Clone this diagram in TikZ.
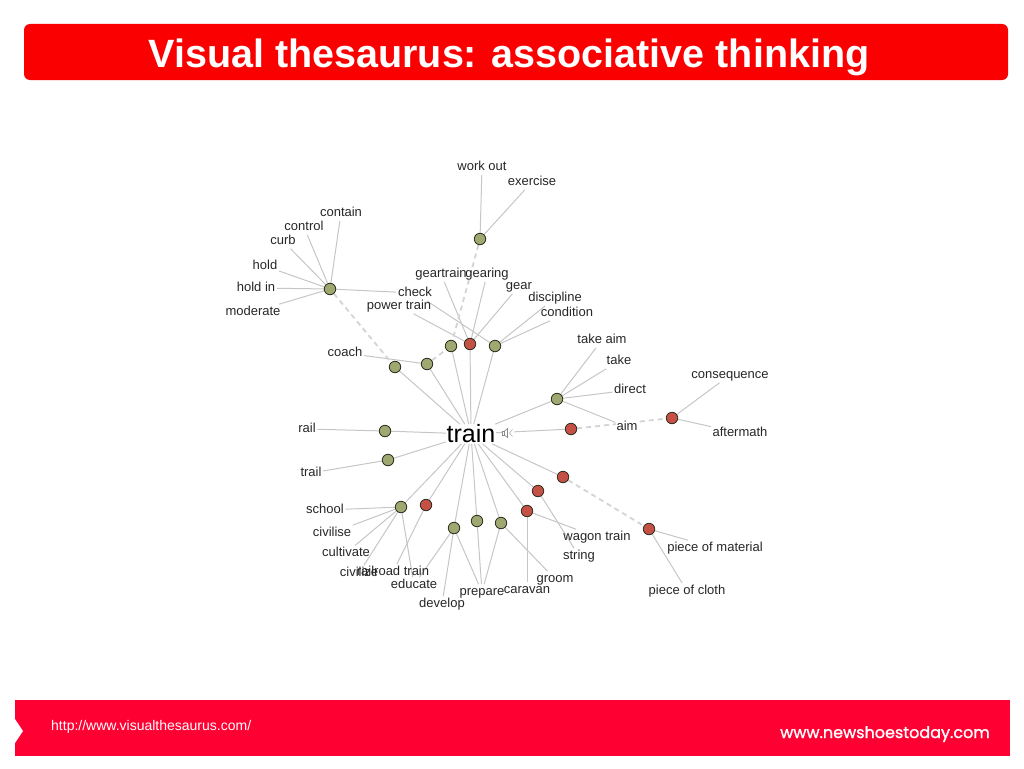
\documentclass[tikz,border=0pt]{standalone}
\usepackage{fontspec}
\setmainfont{Liberation Sans}
\newfontfamily\nstfont[FakeBold=1.2]{Poppins}
\usetikzlibrary{backgrounds}
\definecolor{titlered}{RGB}{250,0,0}
\definecolor{footred}{RGB}{255,0,51}
\definecolor{edgegray}{RGB}{198,198,198}
\definecolor{dashgray}{RGB}{212,212,212}
\definecolor{dotgreen}{RGB}{158,168,112}
\definecolor{dotred}{RGB}{196,80,70}
\definecolor{dotborder}{RGB}{45,45,30}
\tikzset{
  edge/.style={draw=edgegray, line width=1pt},
  dedge/.style={draw=dashgray, line width=1.8pt, dash pattern=on 5pt off 4pt},
  gdot/.style={circle, draw=dotborder, line width=0.8pt, fill=dotgreen, minimum size=11.5pt, inner sep=0pt},
  rdot/.style={circle, draw=dotborder, line width=0.8pt, fill=dotred, minimum size=11.5pt, inner sep=0pt},
  lbl/.style={font=\fontsize{13}{15}\selectfont, inner sep=1.5pt, text height=9.5pt, text depth=2.7pt, text=black!85},
  hub/.style={font=\fontsize{25}{28}\selectfont, inner sep=0.5pt, text=black},
}
\begin{document}
\begin{tikzpicture}[x=1pt,y=-1pt]
\useasboundingbox (0,0) rectangle (1024,768);
% title
\fill[titlered, rounded corners=6pt] (24,24) rectangle (1008,80);
\node[anchor=base, text=white, font=\bfseries\fontsize{39.5}{44}\selectfont, inner sep=0pt] (title) at (509,67) {Visual thesaurus: associative thinking};
% footer
\fill[footred] (15,700) rectangle (1010,756);
\fill[white] (15,719) -- (23,731) -- (15,743) -- cycle;
\node[anchor=base west, text=white, font=\fontsize{14}{16}\selectfont, inner sep=0pt] (src) at (51,730) {http://www.visualthesaurus.com/};
\node[anchor=base east, text=white, font=\nstfont\fontsize{16}{19}\selectfont, inner sep=0pt] (site) at (990,738) {www.newshoestoday.com};

% hub
\node[hub] (train) at (471,434) {train};

% dots
\node[gdot] (g1) at (480,239) {};
\node[gdot] (g2) at (330,289) {};
\node[gdot] (g3) at (451,346) {};
\node[rdot] (r1) at (470,344) {};
\node[gdot] (g4) at (495,346) {};
\node[gdot] (g5) at (427,364) {};
\node[gdot] (g6) at (395,367) {};
\node[gdot] (g7) at (557,399) {};
\node[rdot] (r2) at (571,429) {};
\node[rdot] (r3) at (672,418) {};
\node[gdot] (g8) at (385,431) {};
\node[gdot] (g9) at (388,460) {};
\node[rdot] (r4) at (563,477) {};
\node[rdot] (r5) at (538,491) {};
\node[gdot] (g10) at (401,507) {};
\node[rdot] (r6) at (426,505) {};
\node[gdot] (g11) at (454,528) {};
\node[gdot] (g12) at (477,521) {};
\node[gdot] (g13) at (501,523) {};
\node[rdot] (r7) at (527,511) {};
\node[rdot] (r8) at (649,529) {};

% labels
\node[lbl] (workout) at (482,167) {work out};
\node[lbl] (exercise) at (532,182) {exercise};
\node[lbl] (contain) at (341,213) {contain};
\node[lbl] (control) at (304,227) {control};
\node[lbl] (curb) at (283,241) {curb};
\node[lbl] (hold) at (265,266) {hold};
\node[lbl] (holdin) at (256,288) {hold in};
\node[lbl] (moderate) at (253,312) {moderate};
\node[lbl] (check) at (415,293) {check};
\node[lbl] (powertrain) at (399,306) {power train};
\node[lbl] (geartrain) at (441,274) {geartrain};
\node[lbl] (gearing) at (487,274) {gearing};
\node[lbl] (gear) at (519,286) {gear};
\node[lbl] (discipline) at (555,298) {discipline};
\node[lbl] (condition) at (567,313) {condition};
\node[lbl] (coach) at (345,353) {coach};
\node[lbl] (takeaim) at (602,340) {take aim};
\node[lbl] (take) at (619,361) {take};
\node[lbl] (direct) at (630,390) {direct};
\node[lbl] (consequence) at (730,375) {consequence};
\node[lbl, fill=white, inner sep=1pt] (aim) at (627,427) {aim};
\node[lbl] (aftermath) at (740,433) {aftermath};
\node[lbl] (rail) at (307,429) {rail};
\node[lbl] (trail) at (311,473) {trail};
\node[lbl] (school) at (325,510) {school};
\node[lbl] (civilise) at (332,533) {civilise};
\node[lbl] (cultivate) at (346,553) {cultivate};
\node[lbl] (civilize) at (359,573) {civilize};
\node[lbl] (railroad) at (393,572) {railroad train};
\node[lbl] (educate) at (414,585) {educate};
\node[lbl] (develop) at (442,604) {develop};
\node[lbl] (prepare) at (482,592) {prepare};
\node[lbl] (caravan) at (527,590) {caravan};
\node[lbl] (groom) at (555,579) {groom};
\node[lbl] (wagon) at (597,537) {wagon train};
\node[lbl] (string) at (579,556) {string};
\node[lbl] (material) at (715,548) {piece of material};
\node[lbl] (cloth) at (687,591) {piece of cloth};

% speaker icon
\node[fill=white, minimum width=12pt, minimum height=10pt, inner sep=0pt] (spk) at (508,433) {};
\draw[black!45, line width=0.6pt] (502,431) rectangle (504.5,435);
\draw[black!45, line width=0.6pt] (504.5,431) -- (507.5,428.5) -- (507.5,437.5) -- (504.5,435);
\draw[black!30, line width=0.6pt] (512.5,429.5) -- (509.5,433) -- (512.5,436.5);

\begin{pgfonlayer}{background}
% hub edges
\foreach \n in {g3,r1,g4,g5,g6,g7,r2,g8,g9,r4,r5,r7,g13,g12,g11,r6,g10}
  \draw[edge] (\n) -- (train);
% sense edges
\draw[edge] (g1) -- (workout);
\draw[edge] (g1) -- (exercise);
\foreach \l in {contain,control,curb,hold,holdin,moderate,check}
  \draw[edge] (g2) -- (\l);
\foreach \l in {geartrain,gearing,gear,powertrain}
  \draw[edge] (r1) -- (\l);
\foreach \l in {check,discipline,condition}
  \draw[edge] (g4) -- (\l);
\draw[edge] (g5) -- (coach);
\foreach \l in {takeaim,take,direct,aim}
  \draw[edge] (g7) -- (\l);
\draw[edge] (r3) -- (consequence);
\draw[edge] (r3) -- (aftermath);
\draw[edge] (g8) -- (rail);
\draw[edge] (g9) -- (trail);
\foreach \l in {school,civilise,cultivate,civilize,educate}
  \draw[edge] (g10) -- (\l);
\draw[edge] (r6) -- (railroad);
\foreach \l in {educate,develop,prepare}
  \draw[edge] (g11) -- (\l);
\draw[edge] (g12) -- (prepare);
\draw[edge] (g13) -- (prepare);
\draw[edge] (g13) -- (groom);
\draw[edge] (r7) -- (caravan);
\draw[edge] (r7) -- (wagon);
\draw[edge] (r5) -- (string);
\draw[edge] (r8) -- (material);
\draw[edge] (r8) -- (cloth);
% dashed relations
\draw[dedge] (g1) -- (g3);
\draw[dedge] (g2) -- (g6);
\draw[dedge] (g5) -- (g3);
\draw[dedge] (r2) -- (r3);
\draw[dedge] (r4) -- (r8);
\end{pgfonlayer}
\end{tikzpicture}
\end{document}
